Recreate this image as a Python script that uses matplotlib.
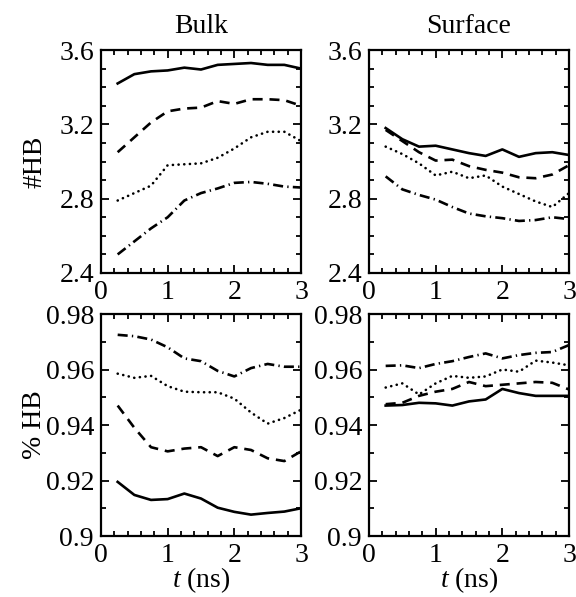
import matplotlib
matplotlib.use("Agg")
import matplotlib.pyplot as plt
from matplotlib.ticker import MultipleLocator, FuncFormatter

plt.rcParams['font.family'] = ['Liberation Serif', 'DejaVu Serif']
plt.rcParams['mathtext.fontset'] = 'custom'
plt.rcParams['mathtext.it'] = 'Liberation Serif:italic'
plt.rcParams['mathtext.rm'] = 'Liberation Serif'

t = [0.25, 0.5, 0.75, 1.0, 1.25, 1.5, 1.75, 2.0, 2.25, 2.5, 2.75, 3.0]

# Bulk #HB
bulk_hb_solid = [3.42, 3.47, 3.485, 3.49, 3.505, 3.495, 3.52, 3.525, 3.53, 3.52, 3.52, 3.50]
bulk_hb_dash = [3.05, 3.13, 3.21, 3.27, 3.285, 3.29, 3.325, 3.31, 3.335, 3.335, 3.33, 3.30]
bulk_hb_dot = [2.79, 2.83, 2.87, 2.98, 2.985, 2.99, 3.02, 3.07, 3.13, 3.16, 3.16, 3.11]
bulk_hb_dashdot = [2.50, 2.57, 2.64, 2.70, 2.79, 2.83, 2.855, 2.885, 2.89, 2.88, 2.865, 2.86]

# Surface #HB
surf_hb_solid = [3.18, 3.12, 3.08, 3.085, 3.065, 3.045, 3.03, 3.065, 3.025, 3.045, 3.05, 3.035]
surf_hb_dash = [3.17, 3.11, 3.05, 3.005, 3.01, 2.975, 2.955, 2.94, 2.915, 2.91, 2.93, 2.98]
surf_hb_dot = [3.08, 3.04, 2.99, 2.925, 2.945, 2.91, 2.925, 2.865, 2.825, 2.785, 2.755, 2.83]
surf_hb_dashdot = [2.92, 2.85, 2.82, 2.795, 2.755, 2.72, 2.705, 2.695, 2.68, 2.685, 2.70, 2.69]

# Bulk %HB
bulk_pct_solid = [0.9195, 0.9148, 0.913, 0.9133, 0.9153, 0.9135, 0.9102, 0.9087, 0.9077, 0.9083, 0.9088, 0.910]
bulk_pct_dash = [0.947, 0.939, 0.932, 0.9305, 0.9315, 0.932, 0.9288, 0.932, 0.931, 0.928, 0.927, 0.9305]
bulk_pct_dot = [0.9585, 0.957, 0.9577, 0.954, 0.952, 0.9518, 0.9518, 0.9495, 0.9445, 0.9405, 0.9425, 0.9455]
bulk_pct_dashdot = [0.9725, 0.972, 0.9708, 0.968, 0.964, 0.963, 0.9595, 0.9575, 0.9605, 0.962, 0.961, 0.961]

# Surface %HB
surf_pct_solid = [0.947, 0.9472, 0.948, 0.9478, 0.947, 0.9485, 0.9492, 0.953, 0.9515, 0.9505, 0.9505, 0.9505]
surf_pct_dash = [0.9475, 0.948, 0.9505, 0.952, 0.953, 0.9555, 0.954, 0.9545, 0.955, 0.9555, 0.9552, 0.9528]
surf_pct_dot = [0.9535, 0.955, 0.951, 0.955, 0.9577, 0.957, 0.9575, 0.960, 0.9592, 0.9632, 0.9625, 0.9615]
surf_pct_dashdot = [0.9613, 0.9615, 0.9605, 0.962, 0.963, 0.9645, 0.9658, 0.964, 0.9652, 0.966, 0.9663, 0.9688]

col_titles = ["Bulk", "Surface"]
row_labels = ["#HB", "% HB"]
xlabel = "$t$ (ns)"

W, H = 576, 597
fig = plt.figure(figsize=(W / 100, H / 100), dpi=100)

def box(x0, y0, x1, y1):
    return [x0 / W, 1 - y1 / H, (x1 - x0) / W, (y1 - y0) / H]

axes = [
    [fig.add_axes(box(101, 50, 301, 273)), fig.add_axes(box(369, 50, 569, 273))],
    [fig.add_axes(box(101, 314, 301, 536)), fig.add_axes(box(369, 314, 569, 536))],
]

data = [
    [[bulk_hb_solid, bulk_hb_dash, bulk_hb_dot, bulk_hb_dashdot],
     [surf_hb_solid, surf_hb_dash, surf_hb_dot, surf_hb_dashdot]],
    [[bulk_pct_solid, bulk_pct_dash, bulk_pct_dot, bulk_pct_dashdot],
     [surf_pct_solid, surf_pct_dash, surf_pct_dot, surf_pct_dashdot]],
]

styles = [
    dict(linestyle='-'),
    dict(linestyle=(0, (3.8, 2.6))),
    dict(linestyle=(0, (0.05, 2.1)), dash_capstyle='round'),
    dict(linestyle=(0, (3.8, 1.6, 0.5, 1.6))),
]

fs = 20

def fmt_top(v, pos):
    return f"{v:.1f}"

def fmt_bot(v, pos):
    if abs(v - 0.9) < 1e-9:
        return "0.9"
    return f"{v:.2f}"

for r in range(2):
    for c in range(2):
        ax = axes[r][c]
        for series, st in zip(data[r][c], styles):
            ax.plot(t, series, color='black', lw=1.9, **st)
        ax.set_xlim(0, 3)
        ax.xaxis.set_major_locator(MultipleLocator(1))
        ax.xaxis.set_minor_locator(MultipleLocator(0.2))
        if r == 0:
            ax.set_ylim(2.4, 3.6)
            ax.yaxis.set_major_locator(MultipleLocator(0.4))
            ax.yaxis.set_minor_locator(MultipleLocator(0.1))
            ax.yaxis.set_major_formatter(FuncFormatter(fmt_top))
        else:
            ax.set_ylim(0.9, 0.98)
            ax.yaxis.set_major_locator(MultipleLocator(0.02))
            ax.yaxis.set_minor_locator(MultipleLocator(0.01))
            ax.yaxis.set_major_formatter(FuncFormatter(fmt_bot))
            ax.set_xlabel(xlabel, fontsize=fs, labelpad=-2)
        ax.tick_params(which='both', direction='in', top=True, right=True,
                       labelsize=fs, width=1.3)
        ax.tick_params(axis='y', which='major', pad=5)
        ax.tick_params(axis='x', which='major', pad=5)
        ax.tick_params(which='major', length=6)
        ax.tick_params(which='minor', length=3.5)
        for s in ax.spines.values():
            s.set_linewidth(1.6)
        if r == 0:
            ax.set_title(col_titles[c], fontsize=fs, pad=12)
        if c == 0:
            ax.set_ylabel(row_labels[r], fontsize=fs)
            ax.yaxis.set_label_coords(-0.27, 0.5)

fig.savefig("out.png", dpi=100)
